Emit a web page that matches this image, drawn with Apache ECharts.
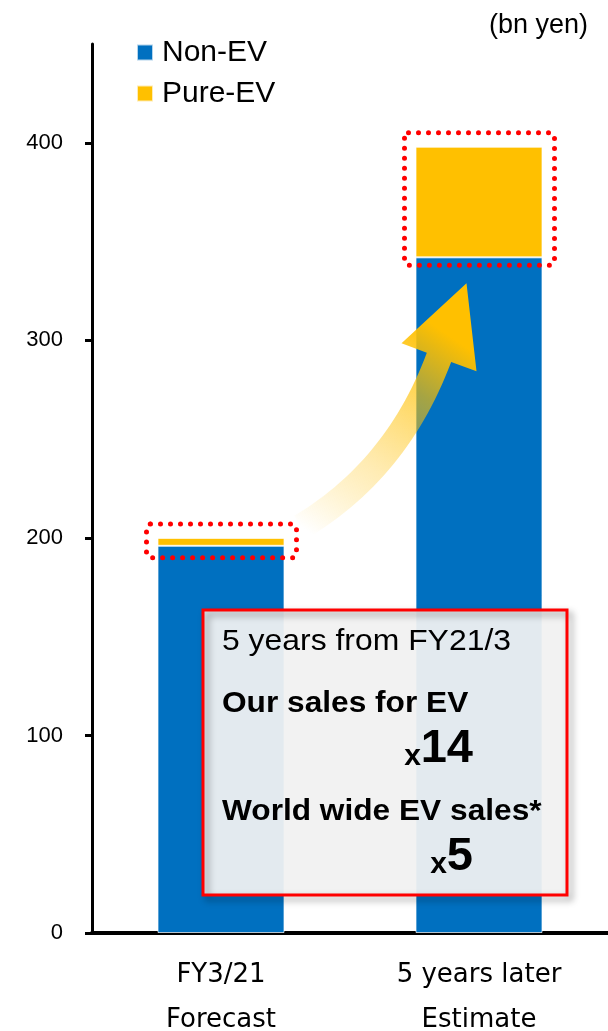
<!DOCTYPE html>
<html>
<head>
<meta charset="utf-8">
<script src="https://cdn.jsdelivr.net/npm/echarts@6/dist/echarts.min.js"></script>
<style>
  html, body { margin: 0; padding: 0; background: #fff; }
  #main { width: 608px; height: 1031px; }
</style>
</head>
<body>
<div id="main"></div>
<script>
const categories = ["FY3/21\nForecast", "5 years later\nEstimate"];
const nonEv = [196, 342];
const pureEv = [4, 56];
const yTicks = [0, 100, 200, 300, 400];

const chart = echarts.init(document.getElementById("main"));

const option = {
  animation: false,
  grid: { left: 92, right: 0, top: 44, bottom: 98, outerBoundsMode: "none" },
  legend: {
    orient: "vertical",
    left: 136,
    top: 37,
    padding: 0,
    itemGap: 10,
    itemWidth: 16,
    itemHeight: 16,
    icon: "rect",
    textStyle: {
      fontFamily: "Liberation Sans",
      fontSize: 30,
      lineHeight: 31,
      color: "#000",
      padding: [0, 0, 0, 4]
    },
    data: ["Non-EV", "Pure-EV"]
  },
  xAxis: {
    type: "category",
    data: categories,
    axisLine: { lineStyle: { color: "#000", width: 4 } },
    axisTick: { show: false },
    axisLabel: {
      fontFamily: "DejaVu Sans",
      fontSize: 26,
      lineHeight: 45,
      color: "#000",
      margin: 20
    }
  },
  yAxis: {
    type: "value",
    min: 0,
    max: 450,
    splitLine: { show: false },
    axisLine: { show: true, lineStyle: { color: "#000", width: 3 } },
    axisTick: {
      show: true,
      length: 7,
      customValues: yTicks,
      lineStyle: { color: "#000", width: 3 }
    },
    axisLabel: {
      customValues: yTicks,
      fontFamily: "Liberation Sans",
      fontSize: 22,
      color: "#000",
      margin: 29
    }
  },
  series: [
    {
      name: "Non-EV",
      type: "bar",
      stack: "total",
      barWidth: 127,
      data: nonEv,
      itemStyle: { color: "#0070C0", borderColor: "rgba(255,255,255,0.7)", borderWidth: 1 }
    },
    {
      name: "Pure-EV",
      type: "bar",
      stack: "total",
      barWidth: 127,
      data: pureEv,
      itemStyle: { color: "#FFC000", borderColor: "rgba(255,255,255,0.7)", borderWidth: 1 }
    }
  ]
};
chart.setOption(option);

// pixel helpers from the chart's own scales
const px = (i, v) => chart.convertToPixel({ gridIndex: 0 }, [i, v]);
const halfBar = 63.5;

// dotted highlight boxes round the Pure-EV part of each bar
function dottedBox(i) {
  const top = px(i, nonEv[i] + pureEv[i]);
  const mid = px(i, nonEv[i]);
  const x0 = top[0] - halfBar - 11;
  const x1 = top[0] + halfBar + 12;
  const y0 = top[1] - 14;
  const y1 = mid[1] + (i === 0 ? 12 : 8);
  return {
    type: "rect",
    z: 100,
    shape: { x: x0, y: y0, width: x1 - x0, height: y1 - y0, r: 4 },
    style: {
      fill: null,
      stroke: "#FF0000",
      lineWidth: 5,
      lineDash: [0, 10],
      lineCap: "round"
    }
  };
}

// curved arrow from first box to second bar
function arrow() {
  const c0 = px(0, nonEv[0] + pureEv[0]);
  const c1 = px(1, nonEv[1]);
  const tail = [c0[0] + 80, c0[1] - 11];
  const ctrl = [c1[0] - 82, c1[1] + 212];
  const base = [c1[0] - 40, c1[1] + 100];
  const tip = [c1[0] - 12.5, c1[1] + 26];
  const barbL = [c1[0] - 77.5, c1[1] + 86];
  const barbR = [c1[0] - 2.5, c1[1] + 114];
  const half = 13;
  const upper = [];
  const lower = [];
  const n = 30;
  for (let k = 0; k <= n; k++) {
    const t = k / n;
    const x = (1 - t) * (1 - t) * tail[0] + 2 * (1 - t) * t * ctrl[0] + t * t * base[0];
    const y = (1 - t) * (1 - t) * tail[1] + 2 * (1 - t) * t * ctrl[1] + t * t * base[1];
    const dx = 2 * (1 - t) * (ctrl[0] - tail[0]) + 2 * t * (base[0] - ctrl[0]);
    const dy = 2 * (1 - t) * (ctrl[1] - tail[1]) + 2 * t * (base[1] - ctrl[1]);
    const len = Math.hypot(dx, dy);
    const nx = -dy / len;
    const ny = dx / len;
    lower.push([x + nx * half, y + ny * half]);
    upper.push([x - nx * half, y - ny * half]);
  }
  const points = upper.concat([barbL, tip, barbR], lower.reverse());
  return {
    type: "polygon",
    z: 90,
    shape: { points },
    style: {
      fill: new echarts.graphic.LinearGradient(tail[0], tail[1], tip[0], tip[1], [
        { offset: 0, color: "rgba(255,192,0,0)" },
        { offset: 0.3, color: "rgba(255,200,40,0.35)" },
        { offset: 0.6, color: "rgba(255,192,0,0.65)" },
        { offset: 0.82, color: "rgba(255,192,0,1)" },
        { offset: 1, color: "rgba(255,192,0,1)" }
      ], true)
    }
  };
}

const boldFont = "bold 30px 'Liberation Sans'";
chart.setOption({
  graphic: [
    arrow(),
    dottedBox(0),
    dottedBox(1),
    {
      type: "text",
      z: 100,
      x: 588,
      y: 26,
      style: {
        text: "(bn yen)",
        font: "27px 'Liberation Sans'",
        fill: "#000",
        align: "right",
        verticalAlign: "middle"
      }
    },
    // text box: translucent fill, then a border that carries the shadow
    {
      type: "rect",
      z: 110,
      shape: { x: 203, y: 610, width: 364, height: 285 },
      style: { fill: "rgba(241,241,241,0.94)" }
    },
    {
      type: "rect",
      z: 111,
      shape: { x: 203, y: 610, width: 364, height: 285 },
      style: {
        fill: null,
        stroke: "#FF0000",
        lineWidth: 3,
        shadowBlur: 7,
        shadowOffsetX: 4,
        shadowOffsetY: 4,
        shadowColor: "rgba(0,0,0,0.4)"
      }
    },
    {
      type: "text", z: 120, x: 222, y: 642, scaleX: 1.1,
      style: { text: "5 years from FY21/3", font: "29px 'Liberation Sans'", fill: "#000", verticalAlign: "middle" }
    },
    {
      type: "text", z: 120, x: 222, y: 704, scaleX: 1.055,
      style: { text: "Our sales for EV", font: boldFont, fill: "#000", verticalAlign: "middle" }
    },
    {
      type: "text", z: 120, x: 473, y: 749,
      style: { text: "14", font: "bold 47px 'Liberation Sans'", fill: "#000", align: "right", verticalAlign: "middle" }
    },
    {
      type: "text", z: 120, x: 421, y: 757,
      style: { text: "x", font: "bold 30px 'Liberation Sans'", fill: "#000", align: "right", verticalAlign: "middle" }
    },
    {
      type: "text", z: 120, x: 222, y: 812, scaleX: 1.055,
      style: { text: "World wide EV sales*", font: boldFont, fill: "#000", verticalAlign: "middle" }
    },
    {
      type: "text", z: 120, x: 473, y: 857,
      style: { text: "5", font: "bold 47px 'Liberation Sans'", fill: "#000", align: "right", verticalAlign: "middle" }
    },
    {
      type: "text", z: 120, x: 447, y: 865,
      style: { text: "x", font: "bold 30px 'Liberation Sans'", fill: "#000", align: "right", verticalAlign: "middle" }
    }
  ]
});
</script>
</body>
</html>
